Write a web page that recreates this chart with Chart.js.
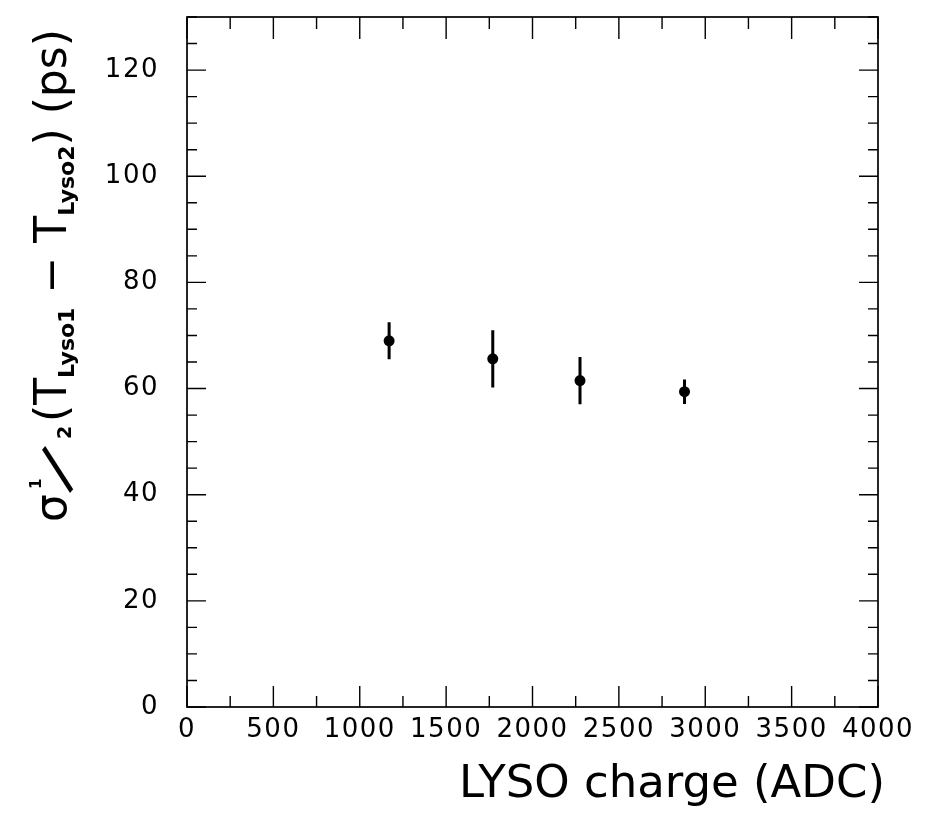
<!DOCTYPE html>
<html>
<head>
<meta charset="utf-8">
<script src="https://cdn.jsdelivr.net/npm/chart.js@4/dist/chart.umd.min.js"></script>
<style>
  html, body { margin: 0; padding: 0; background: #fff; }
  canvas { display: block; }
</style>
</head>
<body>
<canvas id="c" width="937" height="820"></canvas>
<script>
// LYSO charge bins (ADC) and the measured time resolution (ps)
const charge = [1170, 1770, 2275, 2880];
const sigma = [69.0, 65.6, 61.5, 59.4];
const sigmaErr = [3.5, 5.4, 4.45, 2.3];

// axis ticks
const xTicks = [0, 500, 1000, 1500, 2000, 2500, 3000, 3500, 4000];
const yTicks = [0, 20, 40, 60, 80, 100, 120];
const xMinorStep = 250;
const yMinorStep = 5;

const FONT = '"DejaVu Sans", "Liberation Sans", sans-serif';
const LABEL_SPACING = '1.5px';

// frame with inward ticks on all four sides
const frameTicks = {
  id: 'frameTicks',
  afterDatasetsDraw(chart) {
    const { ctx, chartArea: a, scales: { x, y } } = chart;
    ctx.save();
    ctx.letterSpacing = '0px';
    ctx.strokeStyle = '#000';
    ctx.lineWidth = 1.7;
    ctx.strokeRect(a.left, a.top, a.right - a.left, a.bottom - a.top);
    ctx.lineWidth = 1.4;
    ctx.beginPath();
    for (let v = x.min; v <= x.max + 1e-9; v += xMinorStep) {
      const px = x.getPixelForValue(v);
      const major = xTicks.includes(v);
      const lb = major ? 21 : 11;
      const lt = major ? 22 : 12;
      ctx.moveTo(px, a.bottom); ctx.lineTo(px, a.bottom - lb);
      ctx.moveTo(px, a.top); ctx.lineTo(px, a.top + lt);
    }
    for (let v = y.min; v <= y.max + 1e-9; v += yMinorStep) {
      const py = y.getPixelForValue(v);
      const major = yTicks.includes(v);
      const l = major ? 19 : 10;
      ctx.moveTo(a.left, py); ctx.lineTo(a.left + l, py);
      ctx.moveTo(a.right, py); ctx.lineTo(a.right - l, py);
    }
    ctx.stroke();
    ctx.restore();
  }
};

// vertical error bars from the sigmaErr array
const errorBars = {
  id: 'errorBars',
  beforeDatasetsDraw(chart) {
    const { ctx, scales: { x, y } } = chart;
    ctx.save();
    ctx.strokeStyle = '#000';
    ctx.lineWidth = 3;
    ctx.beginPath();
    charge.forEach((c, i) => {
      const px = x.getPixelForValue(c);
      ctx.moveTo(px, y.getPixelForValue(sigma[i] - sigmaErr[i]));
      ctx.lineTo(px, y.getPixelForValue(sigma[i] + sigmaErr[i]));
    });
    ctx.stroke();
    ctx.restore();
  }
};

// axis titles, the vertical one with sub- and superscripts
const axisTitles = {
  id: 'axisTitles',
  beforeUpdate(chart) { chart.ctx.letterSpacing = LABEL_SPACING; },
  beforeDraw(chart) { chart.ctx.letterSpacing = LABEL_SPACING; },
  afterDraw(chart) {
    const ctx = chart.ctx;
    ctx.save();
    ctx.letterSpacing = '0px';
    ctx.fillStyle = '#000';
    ctx.textBaseline = 'alphabetic';

    ctx.font = '45px ' + FONT;
    ctx.textAlign = 'right';
    ctx.fillText('LYSO charge (ADC)', 885, 797);

    ctx.textAlign = 'left';
    ctx.translate(66, 522);
    ctx.rotate(-Math.PI / 2);
    const big = '44px ' + FONT;
    const sub = 'bold 22px ' + FONT;
    let u = 0;
    const put = (t, font, dv) => {
      ctx.font = font;
      ctx.fillText(t, u, dv);
      u += ctx.measureText(t).width;
    };
    put('σ', big, 0);
    // the one-half fraction: small 1, long flat slash, small 2
    ctx.font = 'bold 15px ' + FONT;
    ctx.fillText('1', 33, -25);
    ctx.save();
    ctx.translate(29, 4);
    ctx.rotate(40 * Math.PI / 180);
    ctx.font = '60px ' + FONT;
    ctx.fillText('/', 0, -5.6);
    ctx.restore();
    ctx.font = 'bold 19px ' + FONT;
    ctx.fillText('2', 83, 5);
    u = 100;
    put('(', big, 0);
    put('T', big, 0);
    put('Lyso1', sub, 8);
    put(' − ', big, 0);
    put('T', big, 0);
    put('Lyso2', sub, 8);
    put(')', big, 0);
    put(' (ps)', big, 0);
    ctx.restore();
  }
};

const zeroPadding = s => {
  s.paddingTop = 0; s.paddingBottom = 0; s.paddingLeft = 0; s.paddingRight = 0;
};

new Chart(document.getElementById('c'), {
  type: 'scatter',
  data: {
    datasets: [{
      data: charge.map((c, i) => ({ x: c, y: sigma[i] })),
      backgroundColor: '#000',
      borderColor: '#000',
      borderWidth: 0,
      pointRadius: 5.5,
      pointHoverRadius: 5.5
    }]
  },
  options: {
    responsive: false,
    animation: false,
    events: [],
    layout: { padding: { left: 0, top: 17, right: 59, bottom: 0 } },
    plugins: { legend: { display: false }, tooltip: { enabled: false } },
    scales: {
      x: {
        type: 'linear',
        min: 0, max: 4000,
        afterBuildTicks(s) { s.ticks = xTicks.map(v => ({ value: v })); },
        afterFit(s) { s.height = 113; zeroPadding(s); },
        grid: { display: false, drawTicks: false },
        border: { display: false },
        ticks: {
          color: '#000',
          font: { family: FONT, size: 26 },
          padding: 8,
          maxRotation: 0,
          autoSkip: false,
          callback: v => String(v)
        }
      },
      y: {
        type: 'linear',
        min: 0, max: 130,
        afterBuildTicks(s) { s.ticks = yTicks.map(v => ({ value: v })); },
        afterFit(s) { s.width = 187; zeroPadding(s); },
        grid: { display: false, drawTicks: false },
        border: { display: false },
        ticks: {
          color: '#000',
          font: { family: FONT, size: 26 },
          padding: 28,
          autoSkip: false,
          callback: v => String(v)
        }
      }
    }
  },
  plugins: [errorBars, frameTicks, axisTitles]
});
</script>
</body>
</html>
